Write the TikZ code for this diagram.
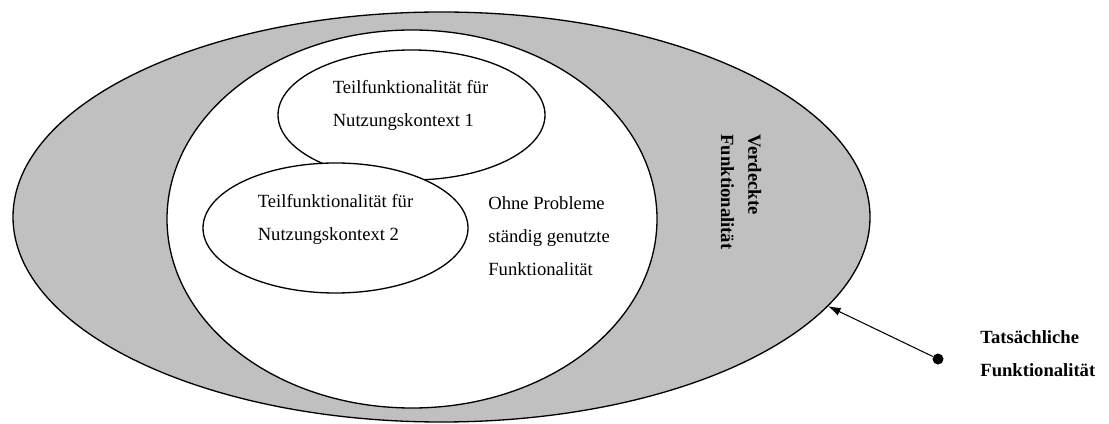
\documentclass[tikz,border=0pt]{standalone}
\usepackage{fontspec}
\setmainfont{Liberation Serif}
\usepackage{tikz}
\usetikzlibrary{shapes.geometric,arrows.meta}
\definecolor{hiddengrey}{RGB}{192,192,192}

\begin{document}
\begin{tikzpicture}[
    every node/.style={font=\fontsize{10.6}{18.8}\selectfont, inner sep=0pt},
    area/.style={ellipse, draw, line width=0.75pt, fill=white},
    txt/.style={align=left}]
  \useasboundingbox (0,0) rectangle (22.18,8.46);
  \node[area, fill=hiddengrey, minimum width=17.14cm, minimum height=8.2cm] (outer) at (8.83,4.12) {};
  \node[area, minimum width=9.8cm, minimum height=7.56cm] (inner) at (8.24,4.08) {};
  \node[area, minimum width=5.34cm, minimum height=2.6cm] (ctx1) at (8.23,6.16) {};
  \node[area, minimum width=5.3cm, minimum height=2.6cm] (ctx2) at (6.71,3.90) {};
  \node[txt] (ctx1text) at (8.21,6.36) {Teilfunktionalität für\\Nutzungskontext 1};
  \node[txt] (ctx2text) at (6.71,4.08) {Teilfunktionalität für\\Nutzungskontext 2};
  \node[txt, anchor=west] (used) at (9.76,3.73) {Ohne Probleme\\ständig genutzte\\Funktionalität};
  \node[txt, font=\fontsize{10.6}{15.5}\selectfont\bfseries, rotate=-90] (hidden) at (14.82,4.62) {Verdeckte\\Funktionalität};
  % actual functionality
  \node[circle, fill, minimum size=0.22cm] (dot) at (18.76,1.28) {};
  \node[txt, font=\fontsize{10.6}{18.8}\selectfont\bfseries, anchor=west] (actual) at (19.6,1.38) {Tatsächliche\\Funktionalität};
  \draw[line width=0.6pt, -{Latex[length=0.25cm, width=0.17cm]}] (dot) -- (outer.-13);
\end{tikzpicture}
\end{document}
